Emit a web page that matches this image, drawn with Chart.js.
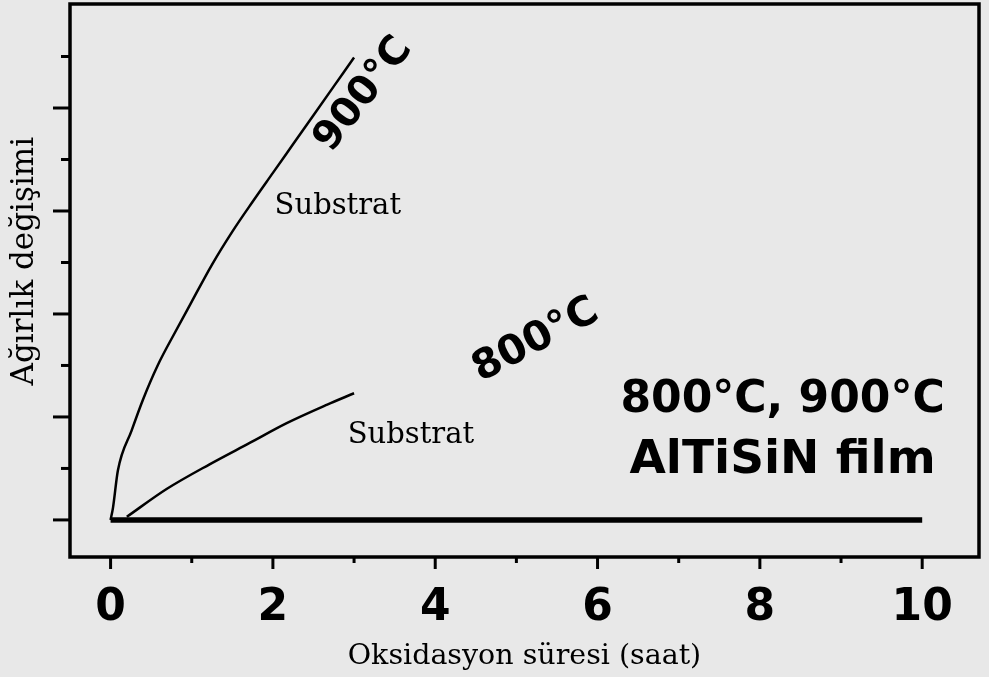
<!DOCTYPE html>
<html>
<head>
<meta charset="utf-8">
<script src="https://cdn.jsdelivr.net/npm/chart.js@4"></script>
<style>
  html, body { margin:0; padding:0; background:#e8e8e8; }
</style>
</head>
<body>
<canvas id="c" width="989" height="677"></canvas>
<script>
// —————— DATA ——————
// 900°C substrate
const t900 = [0, 0.03, 0.09, 0.26, 0.40, 0.58, 0.80, 1.0, 1.25, 1.5, 1.75, 2.0, 2.25, 2.5, 2.75, 3.0];
const w900 = [0, 0.12, 0.48, 0.87, 1.17, 1.50, 1.83, 2.12, 2.48, 2.80, 3.09, 3.37, 3.65, 3.93, 4.21, 4.49];
// 800°C substrate
const t800 = [0.2, 0.69, 1.22, 1.72, 2.17, 2.67, 3.0];
const w800 = [0.03, 0.30, 0.54, 0.75, 0.94, 1.12, 1.23];
// AlTiSiN film (800 & 900°C)
const tFilm = [0, 10];
const wFilm = [0, 0];

const xTickVals = [0, 1, 2, 3, 4, 5, 6, 7, 8, 9, 10];
const xLabels = [0, 2, 4, 6, 8, 10];
const yTickVals = [0, 0.5, 1, 1.5, 2, 2.5, 3, 3.5, 4, 4.5];

// —————— TEXT ON THE PLOT ——————
const notes = [
  { text:'900°C',        x:3.12, y:4.13, rot:-52, font:'bold 40px "DejaVu Sans"' },
  { text:'Substrat',     x:2.80, y:3.04, rot:0,   font:'29px "DejaVu Serif"' },
  { text:'800°C',        x:5.24, y:1.74, rot:-28, font:'bold 41px "DejaVu Sans"' },
  { text:'Substrat',     x:3.70, y:0.82, rot:0,   font:'29px "DejaVu Serif"' },
  { text:'800°C, 900°C', x:8.28, y:1.16, rot:0,   font:'bold 44px "DejaVu Sans"' },
  { text:'AlTiSiN film', x:8.28, y:0.57, rot:0,   font:'bold 47px "DejaVu Sans"' }
];
const yTitle = 'Ağırlık değişimi';

function pts(xs, ys) { return xs.map((x, i) => ({ x: x, y: ys[i] })); }

// —————— FRAME, TICKS, LABELS ——————
const framePlugin = {
  id: 'framePlugin',
  beforeDraw(chart) {
    const ctx = chart.ctx;
    ctx.save();
    ctx.fillStyle = '#e8e8e8';
    ctx.fillRect(0, 0, chart.width, chart.height);
    ctx.restore();
  },
  afterDraw(chart) {
    const { ctx, chartArea: a } = chart;
    const xs = chart.scales.x, ys = chart.scales.y;
    ctx.save();
    ctx.strokeStyle = '#000';
    ctx.lineWidth = 3.5;
    ctx.strokeRect(a.left, a.top, a.right - a.left, a.bottom - a.top);

    ctx.lineWidth = 3;
    xs.ticks.forEach(tk => {
      const px = xs.getPixelForValue(tk.value);
      const len = tk.value % 2 === 0 ? 12 : 6;
      ctx.beginPath(); ctx.moveTo(px, a.bottom); ctx.lineTo(px, a.bottom + len); ctx.stroke();
    });
    ys.ticks.forEach(tk => {
      const py = ys.getPixelForValue(tk.value);
      const len = Number.isInteger(tk.value) ? 17 : 9;
      ctx.beginPath(); ctx.moveTo(a.left, py); ctx.lineTo(a.left - len, py); ctx.stroke();
    });

    ctx.fillStyle = '#000';
    ctx.textAlign = 'center';
    ctx.textBaseline = 'middle';
    notes.forEach(n => {
      ctx.save();
      ctx.translate(xs.getPixelForValue(n.x), ys.getPixelForValue(n.y));
      ctx.rotate(n.rot * Math.PI / 180);
      ctx.font = n.font;
      ctx.fillText(n.text, 0, 0);
      ctx.restore();
    });

    // y title, a bit above the middle of the plot like the original
    ctx.save();
    ctx.translate(25, a.top + (a.bottom - a.top) * 0.465);
    ctx.rotate(-Math.PI / 2);
    ctx.font = '31px "DejaVu Serif"';
    ctx.fillText(yTitle, 0, 0);
    ctx.restore();
    ctx.restore();
  }
};

// —————— CHART ——————
new Chart(document.getElementById('c'), {
  type: 'line',
  data: {
    datasets: [
      { label:'Substrat 900°C', data: pts(t900, w900), borderColor:'#000', borderWidth:2.5,
        pointRadius:0, cubicInterpolationMode:'monotone' },
      { label:'Substrat 800°C', data: pts(t800, w800), borderColor:'#000', borderWidth:2.5,
        pointRadius:0, cubicInterpolationMode:'monotone' },
      { label:'AlTiSiN film', data: pts(tFilm, wFilm), borderColor:'#000', borderWidth:5.5,
        pointRadius:0 }
    ]
  },
  options: {
    responsive: false,
    animation: false,
    layout: { padding: { top:4, right:10, left:0, bottom:0 } },
    plugins: { legend: { display:false }, tooltip: { enabled:false } },
    scales: {
      x: {
        type: 'linear', min: -0.5, max: 10.7,
        grid: { display:false, drawTicks:false, tickLength:0 },
        border: { display:false },
        afterBuildTicks: s => { s.ticks = xTickVals.map(v => ({ value: v })); },
        ticks: {
          autoSkip: false, maxRotation: 0, padding: 25, color: '#000',
          font: { family:'DejaVu Sans', weight:'bold', size:44 },
          callback: v => xLabels.includes(v) ? String(v) : ''
        },
        title: { display:true, text:'Oksidasyon süresi (saat)', color:'#000',
                 font: { family:'DejaVu Serif', size:28.5 }, padding: { top:0, bottom:3 } },
        afterFit: s => { s.height = 120; s.paddingLeft = 0; s.paddingRight = 0; }
      },
      y: {
        type: 'linear', min: -0.36, max: 5.01,
        grid: { display:false, drawTicks:false, tickLength:0 },
        border: { display:false },
        afterBuildTicks: s => { s.ticks = yTickVals.map(v => ({ value: v })); },
        ticks: { display:false },
        afterFit: s => { s.width = 70; }
      }
    }
  },
  plugins: [framePlugin]
});
</script>
</body>
</html>
